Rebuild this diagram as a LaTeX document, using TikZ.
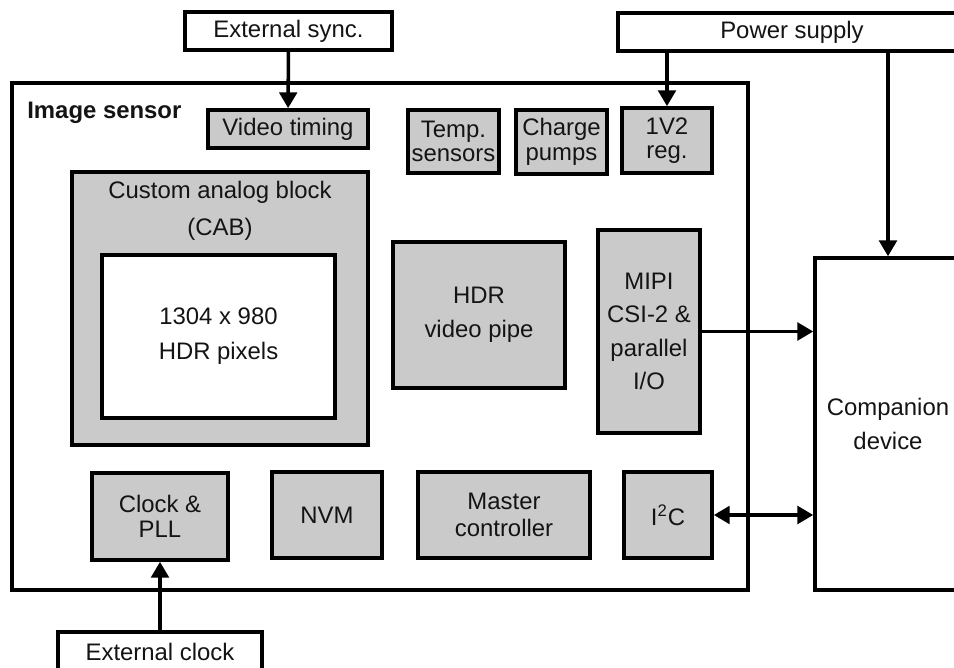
\documentclass[tikz,border=0pt]{standalone}
\usepackage{fontspec}
\setmainfont{Liberation Sans}
\usepackage{tikz}
\usetikzlibrary{arrows.meta,calc,positioning}
\definecolor{ink}{HTML}{141414}
\definecolor{block}{HTML}{CACACA}

\begin{document}
\begin{tikzpicture}[x=0.02cm,y=-0.02cm,>={Triangle[length=9pt,width=10pt]},
  every node/.style={text=ink,font=\fontsize{13.6}{16}\selectfont,inner sep=0pt},
  blk/.style={draw=black,line width=2.1pt,fill=block,align=center},
  ext/.style={draw=black,line width=2pt,fill=white,align=center},
  tight/.style={font=\fontsize{13.6}{14}\selectfont},
  loose/.style={font=\fontsize{13.6}{19.5}\selectfont},
  wire/.style={line width=2pt}]
\useasboundingbox (0,0) rectangle (954,668);
\clip (0,0) rectangle (954,668);
% outside world
\node[ext,minimum width=4.14cm,minimum height=0.76cm] (extsync) at (288.5,31) {External sync.};
\node[ext,minimum width=6.96cm,minimum height=0.76cm] (power) at (792,32) {Power supply};
\node[ext,minimum width=4.08cm,minimum height=0.8cm] (extclk) at (160,652) {External clock};
\node[ext,loose,minimum width=2.92cm,minimum height=6.64cm] (comp) at (888,424) {Companion\\device};
% sensor die
\node[draw=black,line width=2pt,minimum width=14.72cm,minimum height=10.14cm] (sensor) at (380,336.5) {};
\node[anchor=west,font=\fontsize{13.6}{16}\selectfont\bfseries] (sensorlbl) at (27,113) {Image sensor};
\node[blk,minimum width=3.2cm,minimum height=0.76cm] (vtiming) at (288,129) {Video timing};
\node[blk,tight,minimum width=1.82cm,minimum height=1.26cm] (temp) at (453.5,141.5) {Temp.\\sensors};
\node[blk,tight,minimum width=1.82cm,minimum height=1.28cm] (charge) at (561.5,142) {Charge\\pumps};
\node[blk,tight,minimum width=1.8cm,minimum height=1.3cm] (reg) at (667,140.5) {1V2\\reg.};
\node[blk,minimum width=5.92cm,minimum height=5.46cm] (cab) at (220,308.5) {};
\node[align=center,font=\fontsize{13.6}{21}\selectfont] (cablbl) at (220,211) {Custom analog block\\(CAB)};
\node[ext,line width=2.1pt,font=\fontsize{13.6}{20}\selectfont,minimum width=4.66cm,minimum height=3.26cm] (pix) at (218.5,336.5) {1304 x 980\\HDR pixels};
\node[blk,loose,minimum width=3.44cm,minimum height=2.92cm] (hdr) at (479,315) {HDR\\video pipe};
\node[blk,font=\fontsize{13.6}{19}\selectfont,minimum width=2.04cm,minimum height=4.06cm] (mipi) at (649,331.5) {MIPI\\CSI-2 \&\\parallel\\I/O};
\node[blk,tight,minimum width=2.72cm,minimum height=1.74cm] (clock) at (160,516.5) {Clock \&\\PLL};
\node[blk,minimum width=2.2cm,minimum height=1.72cm] (nvm) at (327,515) {NVM};
\node[blk,font=\fontsize{13.6}{15.5}\selectfont,minimum width=3.44cm,minimum height=1.72cm] (master) at (504,515) {Master\\controller};
\node[blk,minimum width=1.76cm,minimum height=1.72cm] (i2c) at (668,515) {I\textsuperscript{2}C};
% connections
\draw[wire,->] (extsync) -- (vtiming);
\draw[wire,->] (power.south -| reg.north) -- (reg.north);
\draw[wire,->] (power.south -| comp.north) -- (comp.north);
\draw[wire,->] (mipi.east) -- (mipi.east -| comp.west);
\draw[wire,<->] (i2c.east) -- (i2c.east -| comp.west);
\draw[wire,->] (extclk.north -| clock.south) -- (clock.south);
\end{tikzpicture}
\end{document}
